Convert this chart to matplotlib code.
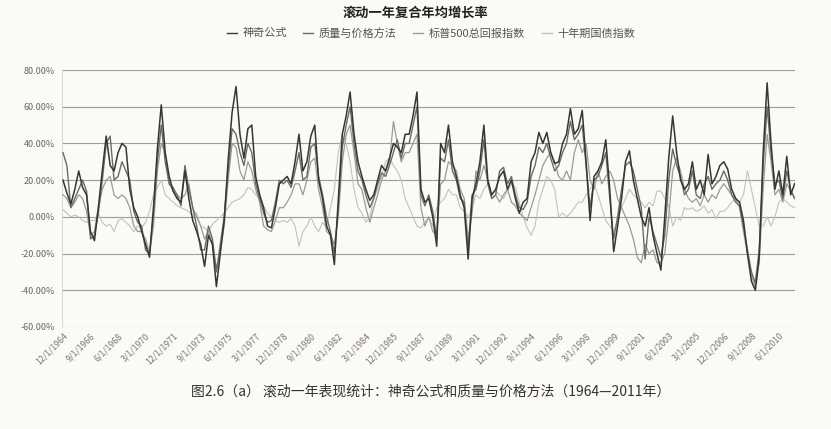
import numpy as np
import pandas as pd
import matplotlib
matplotlib.use("Agg")
import matplotlib.pyplot as plt
from matplotlib.ticker import PercentFormatter
from matplotlib.lines import Line2D

plt.rcParams['font.family'] = ['Noto Sans CJK SC', 'DejaVu Sans']
plt.rcParams['axes.unicode_minus'] = False

# rolling one-year return (%), quarterly readings from 12/1964 on
start_date = "1964-12-01"

magic_formula = [
    20, 13, 7, 15,   25, 16, 12, -8,   -13, 5, 25, 44,   28, 25, 35, 40,
    38, 15, 5, 0,    -8, -15, -22, 5,  37, 61, 35, 22,   14, 10, 8, 25,
    10, -2, -8, -15, -27, -10, -15, -38, -20, -2, 31, 57, 71, 45, 32, 48,
    50, 22, 12, 5,   -5, -6, 5, 18,    20, 22, 18, 30,   45, 25, 30, 44,
    50, 20, 10, -5,  -10, -26, 10, 45, 55, 68, 45, 30,   22, 15, 9, 12,
    20, 28, 25, 32,  40, 38, 35, 45,   45, 55, 68, 15,   8, 10, 0, -16,
    40, 35, 50, 30,  22, 12, 5, -23,   10, 18, 30, 50,   20, 12, 15, 22,
    25, 15, 20, 10,  2, 8, 10, 30,     35, 46, 40, 46,   35, 29, 30, 40,
    45, 59, 45, 48,  58, 30, -2, 22,   25, 30, 42, 15,   -19, -5, 10, 30,
    36, 20, 10, 0,   -5, 5, -10, -20,  -29, 0, 32, 55,   35, 20, 15, 18,
    30, 15, 20, 12,  34, 18, 22, 28,   30, 26, 15, 10,   8, -2, -20, -35,
    -40, -22, 35, 73, 40, 15, 25, 12,  33, 12, 18,
]

quality_price = [
    35, 28, 5, 10,   15, 20, 14, -12,  -10, 2, 20, 40,   44, 20, 22, 30,
    25, 20, 3, -3,   -5, -18, -20, 2,  30, 50, 30, 18,   16, 12, 6, 28,
    15, 5, -5, -18,  -18, -5, -12, -30, -15, 0, 25, 48,  45, 35, 28, 40,
    35, 18, 10, 2,   -3, -2, 8, 20,    18, 20, 16, 25,   35, 20, 22, 38,
    40, 22, 12, 0,   -8, -20, 5, 38,   50, 60, 40, 25,   20, 12, 5, 10,
    18, 24, 22, 28,  35, 42, 32, 40,   40, 50, 60, 12,   6, 12, 3, -12,
    32, 30, 42, 25,  20, 10, 8, -18,   12, 15, 25, 42,   18, 10, 12, 25,
    27, 18, 22, 12,  5, 4, 8, 22,      28, 38, 35, 40,   32, 25, 28, 35,
    40, 52, 42, 45,  50, 28, 5, 20,    22, 28, 35, 10,   -12, 0, 15, 28,
    30, 25, 15, 5,   -23, 0, -8, -15,  -22, -10, 20, 37, 28, 22, 12, 15,
    25, 12, 10, 18,  22, 15, 18, 20,   25, 20, 12, 8,    6, -5, -18, -30,
    -36, -18, 28, 60, 35, 18, 20, 10,  25, 15, 10,
]

sp500_total = [
    12, 10, 5, 8,    12, 10, 3, -10,   -8, 5, 15, 20,    22, 12, 10, 12,
    10, 5, -5, -8,   -8, -12, -20, -5, 25, 40, 35, 18,   14, 12, 10, 12,
    18, 5, 0, -5,    -12, -8, -15, -28, -18, -5, 20, 40, 38, 25, 20, 30,
    25, 15, 8, -5,   -7, -8, -2, 5,    5, 8, 12, 18,     18, 12, 20, 30,
    32, 15, 5, -8,   -10, -15, 0, 30,  45, 50, 35, 18,   15, 5, -3, 5,
    12, 20, 25, 30,  52, 40, 30, 35,   35, 40, 45, 5,    -5, 0, -8, -10,
    18, 20, 30, 28,  25, 15, 10, -12,  2, 25, 20, 28,    20, 10, 12, 8,
    12, 15, 8, 6,    2, 0, -2, 5,      12, 20, 28, 32,   35, 30, 22, 20,
    25, 20, 35, 42,  35, 40, 20, 15,   25, 18, 22, 25,   20, 10, 5, 0,
    -5, -12, -22, -25, -15, -20, -18, -25, -25, -20, 0, 25, 32, 25, 15, 10,
    8, 10, 6, 12,    8, 12, 10, 15,    18, 15, 12, 10,   5, -8, -20, -32,
    -38, -25, 15, 45, 30, 12, 15, 8,   18, 14, 10,
]

treasury_10y = [
    4, 2, 0, 1,      0, -2, -3, -2,    -2, 2, -3, -5,    -4, -8, -2, -1,
    -3, -5, -8, -5,  -6, -3, 3, 12,    16, 20, 12, 10,   8, 6, 5, 4,
    3, 0, 2, -5,     -6, -8, -4, -2,   0, 2, 5, 8,       9, 10, 12, 16,
    15, 12, 10, 6,   2, 0, -2, -3,     -2, -3, -1, -5,   -16, -8, -5, 0,
    -5, -8, -3, -6,  5, 15, 35, 45,    40, 30, 15, 5,    2, -3, 0, 10,
    15, 22, 30, 32,  28, 25, 20, 10,   5, 0, -5, -6,     -3, 0, -5, 5,
    8, 10, 15, 12,   12, 5, 3, 0,      5, 12, 10, 15,    18, 12, 14, 12,
    10, 14, 18, 16,  8, 0, -6, -10,    -5, 8, 15, 22,    20, 15, 0, 2,
    0, 2, 5, 8,      8, 12, 15, 18,    12, 5, -2, -5,    -8, -2, 5, 10,
    15, 12, 10, 8,   5, 8, 6, 14,      14, 10, 6, -5,    0, -2, 5, 4,
    5, 3, 4, 6,      2, 4, -1, 3,      3, 5, 8, 10,      8, 12, 25, 15,
    5, -5, -5, 0,    -5, 0, 8, 10,     8, 6, 5,
]

series_names = ["神奇公式", "质量与价格方法", "标普500总回报指数", "十年期国债指数"]
series_colors = ["#363636", "#6a6a6a", "#9a9a9a", "#c2c2c2"]

tick_labels = [
    "12/1/1964", "9/1/1966", "6/1/1968", "3/1/1970", "12/1/1971", "9/1/1973",
    "6/1/1975", "3/1/1977", "12/1/1978", "9/1/1980", "6/1/1982", "3/1/1984",
    "12/1/1985", "9/1/1987", "6/1/1989", "3/1/1991", "12/1/1992", "9/1/1994",
    "6/1/1996", "3/1/1998", "12/1/1999", "9/1/2001", "6/1/2003", "3/1/2005",
    "12/1/2006", "9/1/2008", "6/1/2010",
]

dates = pd.date_range(start_date, periods=len(magic_formula), freq="3MS")
tick_dates = pd.to_datetime(tick_labels, format="%m/%d/%Y")

bg = "#fbfaf4"
fig = plt.figure(figsize=(8.31, 4.29), dpi=100, facecolor=bg)
ax = fig.add_axes([62 / 831, 1 - 327 / 429, 733 / 831, 257 / 429], facecolor=bg)

all_series = [magic_formula, quality_price, sp500_total, treasury_10y]
widths = [1.1, 1.0, 0.9, 0.8]
for i in [3, 2, 1, 0]:
    ax.plot(dates, np.array(all_series[i]) / 100, color=series_colors[i],
            lw=widths[i], zorder=3 + (3 - i))

ax.set_ylim(-0.6, 0.8)
ax.set_yticks(np.arange(-0.6, 0.81, 0.2))
ax.yaxis.set_major_formatter(PercentFormatter(1.0, decimals=2))
ax.set_xlim(pd.Timestamp("1964-11-08"), pd.Timestamp("2011-06-10"))
ax.set_xticks(tick_dates)
ax.set_xticklabels(tick_labels, rotation=45, ha="right", rotation_mode="anchor")
ax.tick_params(axis="x", labelsize=6.3, colors="#777777", length=0, pad=3)
ax.tick_params(axis="y", labelsize=6.5, colors="#666666", length=0, pad=5)

ax.grid(axis="y", color="#9c9c9c", lw=0.8)
for s in ["top", "right", "bottom"]:
    ax.spines[s].set_visible(False)
ax.spines["left"].set_color("#d0d0d0")
ax.spines["left"].set_linewidth(0.6)

fig.text(0.5, 1 - 13 / 429, "滚动一年复合年均增长率", ha="center", va="center",
         fontsize=9.5, fontweight="bold", color="#222222")

handles = [Line2D([], [], color=c, lw=1.0) for c in series_colors]
fig.legend(handles, series_names, loc="center", bbox_to_anchor=(431 / 831, 1 - 33 / 429),
           ncol=4, frameon=False, fontsize=8, handlelength=0.9, handletextpad=0.5,
           columnspacing=1.5, labelcolor="#555555")

fig.text(0.518, 1 - 392 / 429,
         "图2.6（a） 滚动一年表现统计：神奇公式和质量与价格方法（1964—2011年）",
         ha="center", va="center", fontsize=10, color="#333333")

fig.savefig("out.png", dpi=100, facecolor=bg)
